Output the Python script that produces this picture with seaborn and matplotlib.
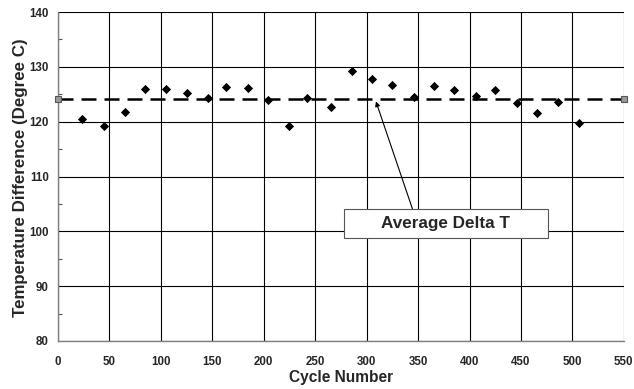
import matplotlib
matplotlib.use("Agg")
import matplotlib.pyplot as plt
import seaborn as sns
import numpy as np
import pandas as pd
from matplotlib.ticker import MultipleLocator
from matplotlib.patches import Rectangle

sns.set_style("white")
plt.rcParams["font.family"] = ["Liberation Sans", "DejaVu Sans"]

# measured delta T per cycle
cycles = [23, 45, 65, 85, 105, 125, 146, 163, 185, 204, 225, 242, 265,
          286, 305, 325, 346, 365, 385, 406, 425, 446, 466, 486, 506]
delta_t = [120.5, 119.3, 121.8, 126.0, 125.9, 125.2, 124.4, 126.4, 126.2,
           123.9, 119.2, 124.3, 122.6, 129.2, 127.8, 126.7, 124.5, 126.5,
           125.8, 124.6, 125.7, 123.5, 121.6, 123.6, 119.7]
avg_x = [0, 550]
avg_t = [124.2, 124.2]

df = pd.DataFrame({"cycle": cycles, "dt": delta_t})
avg = pd.DataFrame({"cycle": avg_x, "dt": avg_t})

fig = plt.figure(figsize=(6.34, 3.89), dpi=100)
ax = fig.add_axes([0.0915, 0.1234, 0.8925, 0.8456])

ax.grid(True, which="major", color="black", linewidth=0.8)
ax.set_axisbelow(True)

sns.lineplot(data=avg, x="cycle", y="dt", ax=ax, color="black", linewidth=1.8,
             dashes=False, linestyle=(0, (6, 3.2)), zorder=3)
ax.plot(avg["cycle"], avg["dt"], linestyle="none", marker="s", markersize=4.5,
        markerfacecolor="#9a9a9a", markeredgecolor="#555555", markeredgewidth=0.8,
        zorder=4, clip_on=False)
sns.scatterplot(data=df, x="cycle", y="dt", ax=ax, marker="D", s=22,
                color="black", edgecolor="black", linewidth=0, zorder=5)

ax.set_xlim(0, 550)
ax.set_ylim(80, 140)
ax.xaxis.set_major_locator(MultipleLocator(50))
ax.yaxis.set_major_locator(MultipleLocator(10))
ax.yaxis.set_minor_locator(MultipleLocator(5))
ax.tick_params(axis="y", which="major", labelsize=8.3, length=3, width=0.8,
               direction="out", color="#555555", pad=3.5)
ax.tick_params(axis="y", which="minor", length=3, width=0.8, direction="in",
               color="#555555", left=True)
ax.tick_params(axis="x", which="major", labelsize=8.3, length=0, pad=10.5)
for lab in ax.get_xticklabels() + ax.get_yticklabels():
    lab.set_fontweight("bold")

for side in ["left", "bottom"]:
    ax.spines[side].set_color("#808080")
    ax.spines[side].set_linewidth(1.0)
for side in ["top", "right"]:
    ax.spines[side].set_visible(False)

ax.set_xlabel("Cycle Number", fontsize=11.2, fontweight="bold")
ax.set_ylabel("Temperature Difference (Degree C)", fontsize=12.2,
              fontweight="bold")
ax.xaxis.set_label_coords(0.5, -0.089)
ax.yaxis.set_label_coords(-0.053, 0.495)

ax.annotate("", xy=(309, 123.7), xytext=(344.5, 104.1),
            arrowprops=dict(arrowstyle="-|>", color="black", lw=0.8,
                            mutation_scale=7, shrinkA=0, shrinkB=0), zorder=6)
ax.add_patch(Rectangle((278, 98.7), 198, 5.4, facecolor="white",
                       edgecolor="#555555", linewidth=0.8, zorder=7))
ax.text(377, 101.4, "Average Delta T", ha="center", va="center",
        fontsize=12.3, fontweight="bold", zorder=8)

fig.savefig("out.png", dpi=100)
